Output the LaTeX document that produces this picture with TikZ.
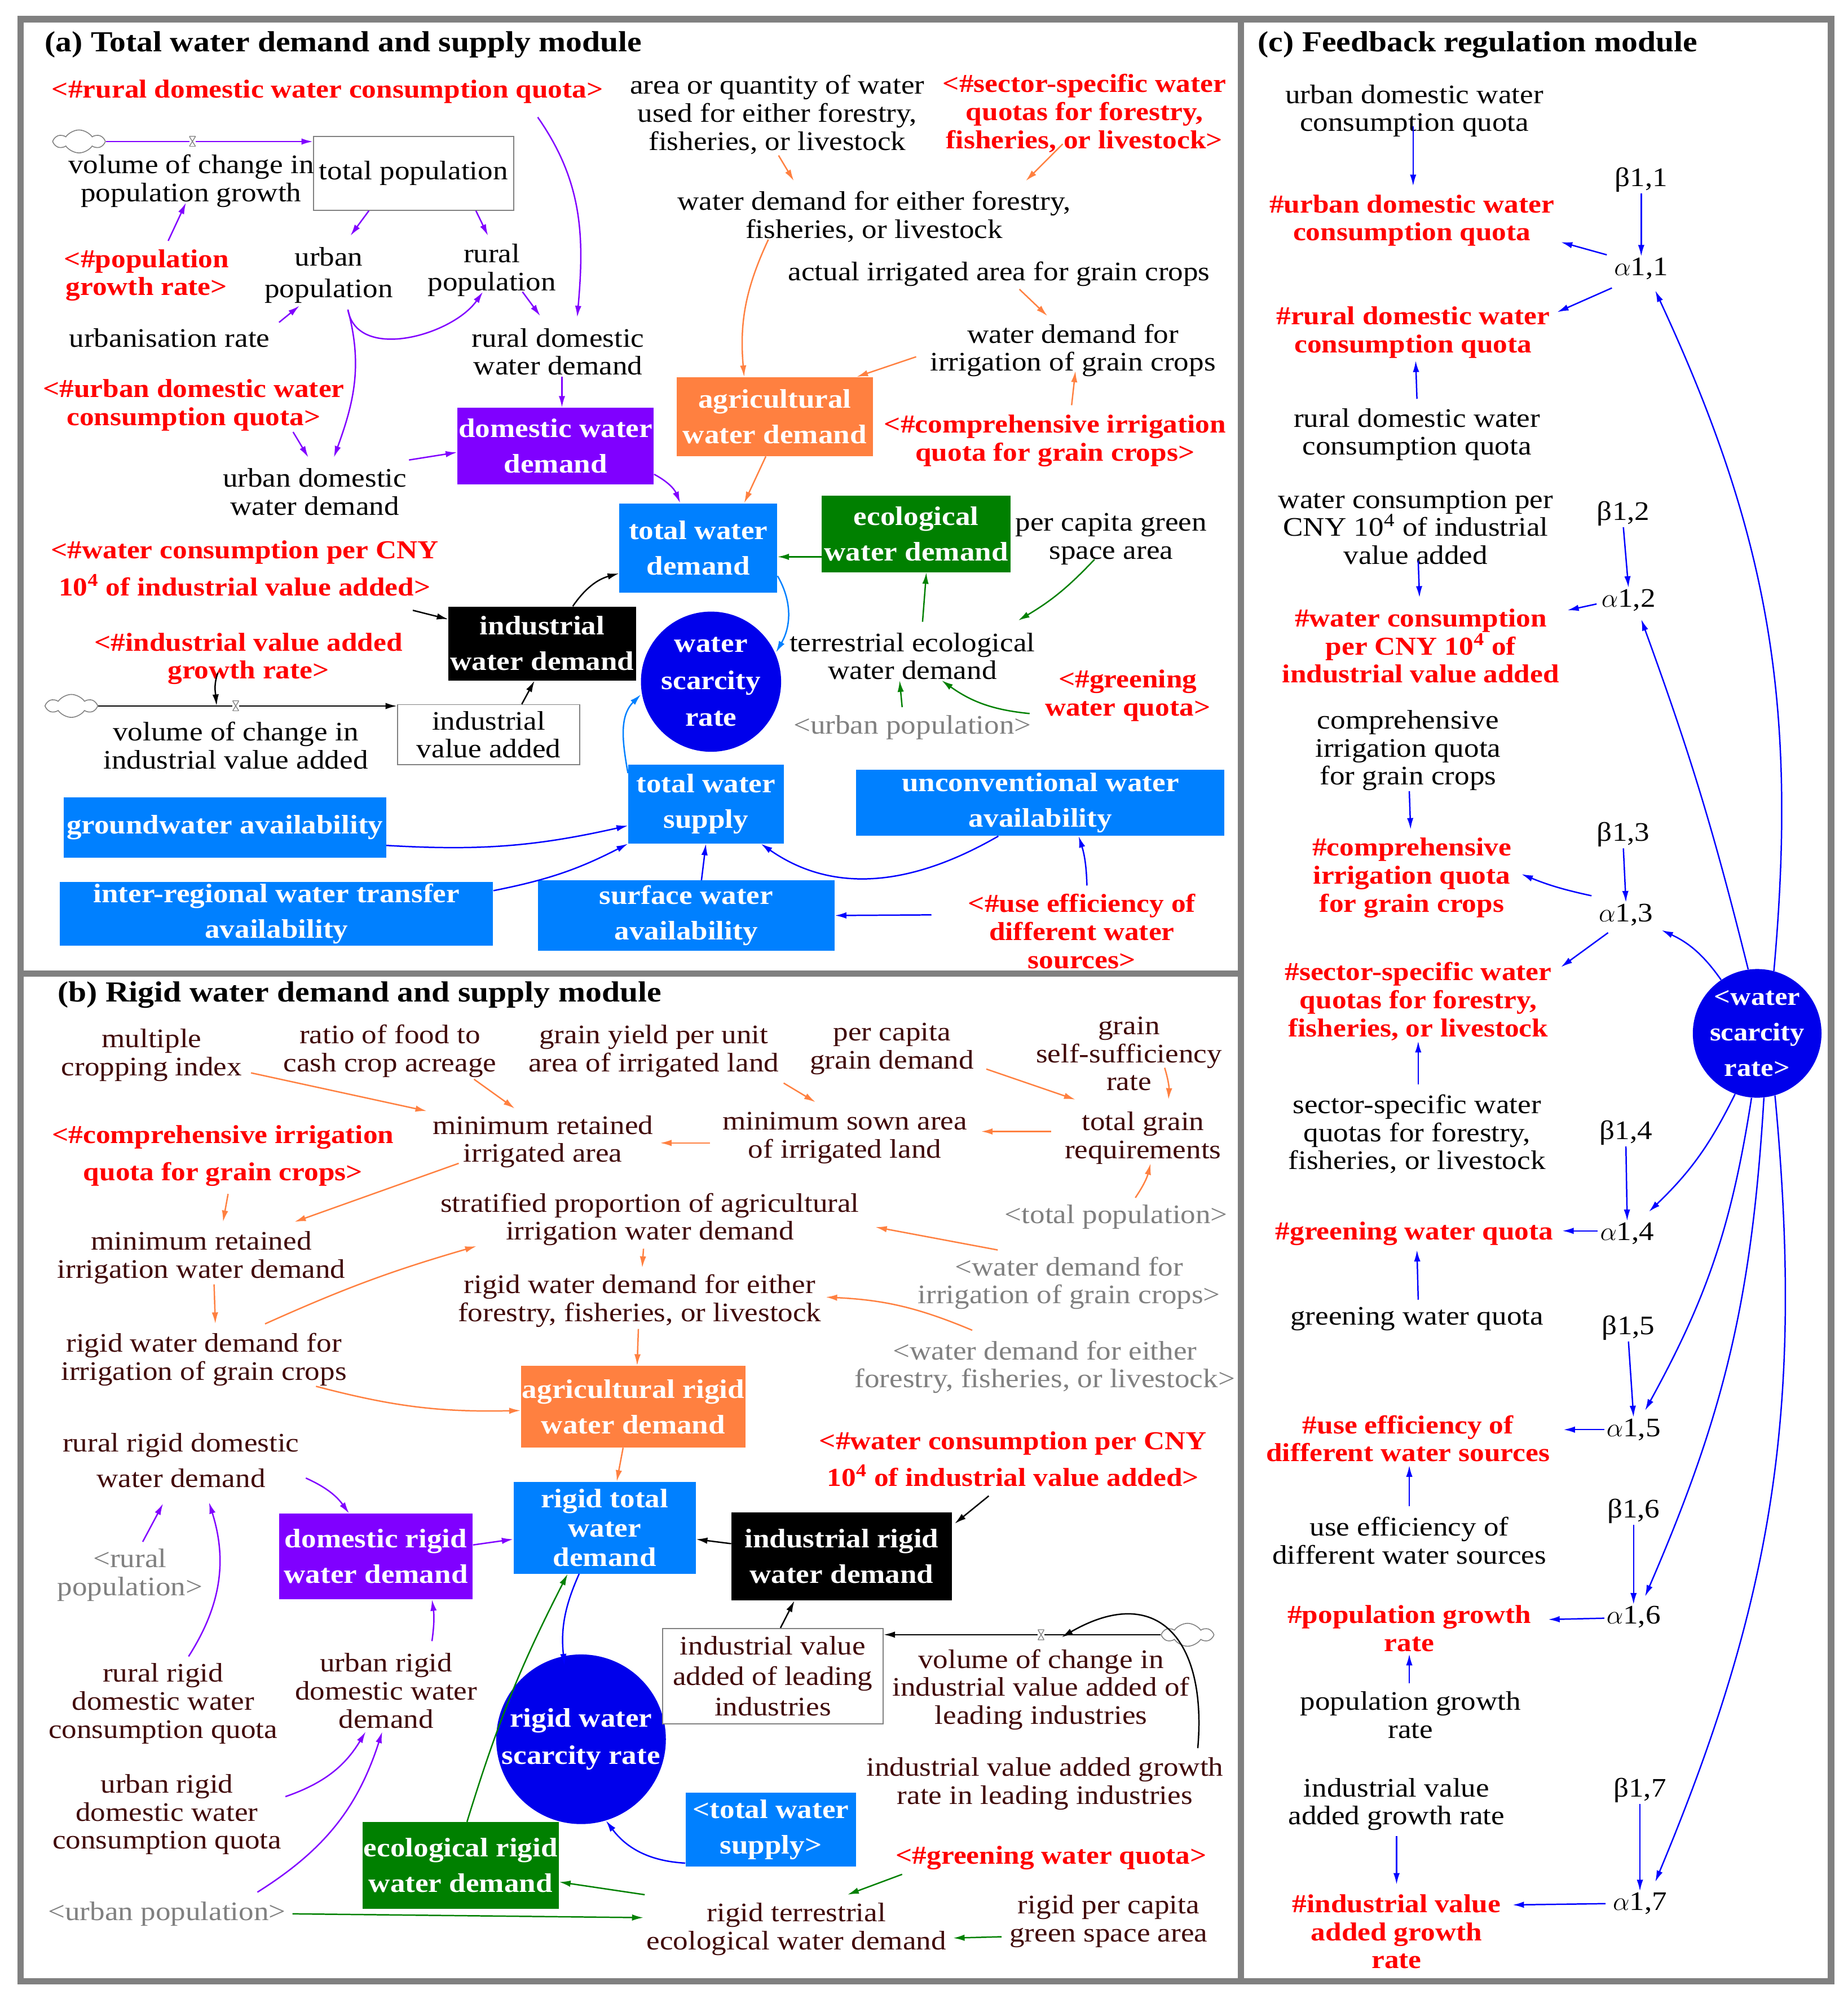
\documentclass[tikz,border=0pt]{standalone}
\usepackage{fontspec}
\setmainfont{Liberation Serif}[FakeStretch=1.12]
\usetikzlibrary{arrows.meta,calc,shapes.symbols}

\definecolor{vpur}{RGB}{128,0,255}
\definecolor{vora}{RGB}{255,128,64}
\definecolor{vblu}{RGB}{0,128,255}
\definecolor{vgrn}{RGB}{0,128,0}
\definecolor{vred}{RGB}{255,0,0}
\definecolor{vdrk}{RGB}{0,0,235}
\definecolor{vbrn}{RGB}{64,8,8}
\definecolor{vgry}{RGB}{128,128,128}

\tikzset{
  txt/.style={align=center,inner sep=1pt,font=\fontsize{21}{22}\selectfont},
  atxt/.style={txt,text=black},
  btxt/.style={txt,text=vbrn},
  rtxt/.style={txt,text=vred,font=\bfseries\fontsize{20.3}{22}\selectfont},
  gtxt/.style={txt,text=vgry},
  hd/.style={anchor=west,inner sep=0pt,font=\bfseries\fontsize{22.8}{24}\selectfont},
  vbox/.style={align=center,inner sep=1pt,text=white,font=\bfseries\fontsize{21}{28}\selectfont},
  pbox/.style={vbox,fill=vpur},
  obox/.style={vbox,fill=vora},
  bbox/.style={vbox,fill=vblu},
  gbox/.style={vbox,fill=vgrn},
  kbox/.style={vbox,fill=black},
  stock/.style={draw=vgry,line width=0.8pt,fill=white,align=center,inner sep=1pt,font=\fontsize{21}{22}\selectfont},
  rate/.style={circle,fill=vdrk,text=white,align=center,inner sep=0pt,font=\bfseries\fontsize{21}{29}\selectfont},
  cld/.style={cloud,cloud puffs=6,cloud puff arc=110,aspect=2.2,draw=vgry,line width=0.7pt,inner sep=0pt,minimum width=38pt,minimum height=18pt},
  valve/.style={fill=white,inner sep=0pt,minimum width=5pt,minimum height=8pt,
    path picture={\draw[vgry,line width=0.6pt] (path picture bounding box.north west) -- (path picture bounding box.north east) -- (path picture bounding box.south west) -- (path picture bounding box.south east) -- cycle;}},
  frm/.style={draw=vgry,line width=5pt},
  conn/.style={line width=1.1pt,-{Latex[length=9pt,width=5pt]}},
  cpur/.style={conn,vpur},
  cora/.style={conn,vora},
  cgrn/.style={conn,vgrn},
  cblu/.style={conn,blue},
  clbl/.style={conn,vblu},
  cblk/.style={conn,black},
}

\begin{document}
\begin{tikzpicture}[x=1pt,y=-1pt]
\useasboundingbox (0,0) rectangle (1450,1572);

% frames
\draw[frm] (16,15) rectangle (1437,1555);
\draw[frm] (974,15) -- (974,1555);
\draw[frm] (16,764) -- (974,764);

% (a) total water demand and supply
\node[hd] (ta) at (35,35) {(a) Total water demand and supply module};
\node[rtxt] (rdq) at (257,72) {<\#rural domestic water consumption quota>};
\node[cld] (cl1) at (62,111) {};
\node[stock,minimum width=157pt,minimum height=58pt] (tpop) at (324.5,136) {total population};
\node[atxt] (vcpg) at (150,142) {volume of change in\\population growth};
\node[rtxt] (pgr) at (115,216) {<\#population\\growth rate>};
\node[atxt] (upop) at (258,216) {urban\\[3pt]population};
\node[atxt] (rpop) at (386,212) {rural\\population};
\node[atxt] (urb) at (133,265) {urbanisation rate};
\node[atxt] (rdwd) at (438,276) {rural domestic\\water demand};
\node[pbox,minimum width=154pt,minimum height=60pt] (dwd) at (436,350) {domestic water\\demand};
\node[rtxt] (udq) at (152,318) {<\#urban domestic water\\consumption quota>};
\node[atxt] (udwd) at (247,386) {urban domestic\\water demand};
\node[obox,minimum width=154pt,minimum height=62pt] (agwd) at (608,327) {agricultural\\water demand};
\node[atxt] (aqw) at (610,90) {area or quantity of water\\used for either forestry,\\fisheries, or livestock};
\node[rtxt] (ssq) at (851,89) {<\#sector-specific water\\quotas for forestry,\\fisheries, or livestock>};
\node[atxt] (wdf) at (686,170) {water demand for either forestry,\\fisheries, or livestock};
\node[atxt] (aia) at (784,215) {actual irrigated area for grain crops};
\node[atxt] (wdi) at (842,275) {water demand for\\irrigation of grain crops};
\node[rtxt] (ciq) at (828,346) {<\#comprehensive irrigation\\quota for grain crops>};
\node[bbox,minimum width=124pt,minimum height=70pt] (twd) at (548,430) {total water\\demand};
\node[gbox,minimum width=148pt,minimum height=60pt] (ewd) at (719,419) {ecological\\water demand};
\node[atxt] (pcg) at (872,423) {per capita green\\space area};
\node[atxt] (ted) at (716,515) {terrestrial ecological\\water demand};
\node[rtxt] (gwq) at (885,546) {<\#greening\\water quota>};
\node[gtxt] (upop2) at (716,571) {<urban population>};
\node[rate,minimum size=110pt] (wsr) at (558,535) {water\\scarcity\\rate};
\node[bbox,minimum width=122pt,minimum height=62pt] (tws) at (554,631) {total water\\supply};
\node[bbox,minimum width=289pt,minimum height=52pt] (uwa) at (816.5,630) {unconventional water\\availability};
\node[bbox,minimum width=233pt,minimum height=55pt] (swa) at (538.5,718.5) {surface water\\availability};
\node[rtxt] (uef) at (849,731) {<\#use efficiency of\\different water\\sources>};
\node[bbox,minimum width=253pt,minimum height=47pt] (gwa) at (176.5,649.5) {groundwater availability};
\node[bbox,minimum width=340pt,minimum height=50pt] (ira) at (217,717) {inter-regional water transfer\\availability};
\node[rtxt] (wcc) at (192,446) {<\#water consumption per CNY\\[7pt]10\textsuperscript{4} of industrial value added>};
\node[kbox,minimum width=147pt,minimum height=58pt] (iwd) at (425.5,505) {industrial\\water demand};
\node[rtxt] (igr) at (195,517) {<\#industrial value added\\growth rate>};
\node[cld] (cl2) at (56,554) {};
\node[atxt] (vci) at (185,585) {volume of change in\\industrial value added};
\node[stock,minimum width=143pt,minimum height=47pt] (iva) at (383.5,576.5) {industrial\\value added};
\coordinate (f2) at (170,554);

\draw[cpur] (cl1.east) -- (cl1.east -| tpop.west);
\node[valve] (v1) at (151,111) {};
\draw[cpur] ($(pgr)+(17,-27)$) -- ($(vcpg)+(-4,17)$);
\draw[cpur] ([xshift=-35pt]tpop.south) -- ($(upop)+(17,-31)$);
\draw[cpur] ([xshift=49pt]tpop.south) -- ($(rpop)+(-3,-27)$);
\draw[cpur] ($(urb)+(86,-12)$) -- ($(upop)+(-23,24)$);
\draw[cpur] ($(upop)+(15,27)$) to[out=-80,in=-125] ($(rpop)+(-7,17)$);
\draw[cpur] ($(rpop)+(24,17)$) -- ($(rdwd)+(-14,-28)$);
\draw[cpur] ($(rdq)+(165,20)$) to[out=-55,in=85] ($(rdwd)+(15,-27)$);
\draw[cpur] ([xshift=3pt]rdwd.south) -- ([xshift=5pt]dwd.north);
\draw[cpur] ($(udq)+(78,21)$) -- ($(udwd)+(-5,-27)$);
\draw[cpur] ($(upop)+(15,27)$) to[out=-75,in=70] ($(udwd)+(15,-27)$);
\draw[cpur] ($(udwd)+(74,-25)$) -- ($(dwd.west)+(0,5)$);
\draw[cpur] ($(dwd.south east)+(0,-8)$) to[bend left=20] ([xshift=48pt]twd.north west);
\draw[cora] ([xshift=-7pt]agwd.south) -- ([xshift=36pt]twd.north);
\draw[cora] ($(aqw)+(1,32)$) -- ($(wdf)+(-63,-28)$);
\draw[cora] ($(ssq)+(-17,24)$) -- ($(wdf)+(119,-28)$);
\draw[cora] ($(wdf)+(-83,18)$) to[out=-115,in=95] ([xshift=-24pt]agwd.north);
\draw[cora] ($(aia)+(16,12)$) -- ($(wdi)+(-20,-27)$);
\draw[cora] ($(wdi)+(-123,5)$) -- ([xshift=-13pt]agwd.north east);
\draw[cora] ($(ciq)+(13,-28)$) -- ($(wdi)+(2,16)$);
\draw[cgrn] ($(ewd.west)+(0,18)$) -- ($(twd.east)+(0,7)$);
\draw[cgrn] ($(pcg)+(-13,16)$) to[bend left=8] ($(ted)+(83,-28)$);
\draw[cgrn] ($(ted)+(8,-27)$) -- ([xshift=8pt]ewd.south);
\draw[cgrn] ($(gwq)+(-77,14)$) to[bend left=15] ($(ted)+(23,19)$);
\draw[cgrn] ($(upop2)+(-8,-16)$) -- ($(ted)+(-10,19)$);
\draw[clbl] ($(twd.east)+(0,22)$) to[out=-60,in=60] ($(wsr)+(51,-23)$);
\draw[clbl] ($(tws.north west)+(0,7)$) to[out=100,in=-135] ($(wsr)+(-55,10)$);
\draw[cblu] ($(uwa.south)+(-33,0)$) to[out=-150,in=-35] ([xshift=-18pt]tws.south east);
\draw[cblu] ([xshift=12pt]swa.north) -- (tws.south);
\draw[cblu] ($(uef)+(-118,-13)$) -- (swa.east);
\draw[cblu] ($(uef)+(4,-36)$) to[bend right=8] ([xshift=30pt]uwa.south);
\draw[cblu] ($(gwa.east)+(0,14)$) to[bend right=8] ($(tws.west)+(0,17)$);
\draw[cblu] ($(ira.east)+(0,-18)$) to[bend right=8] (tws.south west);
\draw[cblk] ($(wcc)+(132,33)$) -- ($(iwd.west)+(0,-19)$);
\draw[cblk] ([xshift=24pt]iwd.north) to[bend left=20] ($(twd.west)+(0,20)$);
\draw[cblk] ($(igr)+(-24,11)$) to[out=-110,in=95] (f2);
\draw[cblk] (cl2.east) -- (cl2.east -| iva.west);
\node[valve] (v2) at (185,554) {};
\draw[cblk] ([xshift=26pt]iva.north) -- ([xshift=-6pt]iwd.south);

% (b) rigid water demand and supply
\node[hd] (tb) at (45,781) {(b) Rigid water demand and supply module};
\node[btxt] (mci) at (119,828) {multiple\\cropping index};
\node[btxt] (rfc) at (306,825) {ratio of food to\\cash crop acreage};
\node[btxt] (gyu) at (513,825) {grain yield per unit\\area of irrigated land};
\node[btxt] (pcgd) at (700,823) {per capita\\grain demand};
\node[btxt] (gss) at (886,827) {grain\\self-sufficiency\\rate};
\node[btxt] (mria) at (426,896) {minimum retained\\irrigated area};
\node[btxt] (msa) at (663,893) {minimum sown area\\of irrigated land};
\node[btxt] (tgr) at (897,893) {total grain\\requirements};
\node[gtxt] (tpop2) at (876,955) {<total population>};
\node[rtxt] (ciq2) at (175,907) {<\#comprehensive irrigation\\[7pt]quota for grain crops>};
\node[btxt] (mriw) at (158,987) {minimum retained\\irrigation water demand};
\node[btxt] (spa) at (510,957) {stratified proportion of agricultural\\irrigation water demand};
\node[btxt] (rwi) at (160,1067) {rigid water demand for\\irrigation of grain crops};
\node[gtxt] (wdi2) at (839,1007) {<water demand for\\irrigation of grain crops>};
\node[btxt] (rwf) at (502,1021) {rigid water demand for either\\forestry, fisheries, or livestock};
\node[gtxt] (wdf2) at (820,1073) {<water demand for either\\forestry, fisheries, or livestock>};
\node[obox,minimum width=174pt,minimum height=64pt] (arwd) at (497,1104) {agricultural rigid\\water demand};
\node[bbox,minimum width=143pt,minimum height=72pt,font=\bfseries\fontsize{21}{23}\selectfont] (rtwd) at (474.5,1199) {rigid total\\water\\demand};
\node[rate,minimum size=120pt] (rwsr) at (456,1365) {rigid water\\scarcity rate};
\node[pbox,minimum width=152pt,minimum height=67pt] (drwd) at (295,1221.5) {domestic rigid\\water demand};
\node[btxt] (rrdwd) at (142,1146) {rural rigid domestic\\[6pt]water demand};
\node[gtxt] (rpop2) at (102,1236) {<rural\\population>};
\node[btxt] (rrq) at (128,1337) {rural rigid\\domestic water\\consumption quota};
\node[btxt] (urdwd) at (303,1327) {urban rigid\\domestic water\\demand};
\node[btxt] (urq) at (131,1424) {urban rigid\\domestic water\\consumption quota};
\node[gtxt] (upop3) at (131,1502) {<urban population>};
\node[gbox,minimum width=153pt,minimum height=68pt] (erwd) at (361.5,1464) {ecological rigid\\water demand};
\node[btxt] (rted) at (625,1514) {rigid terrestrial\\ecological water demand};
\node[rtxt] (gwq2) at (825,1458) {<\#greening water quota>};
\node[btxt] (rpcg) at (870,1508) {rigid per capita\\green space area};
\node[bbox,minimum width=134pt,minimum height=58pt] (tws2) at (605,1436) {<total water\\supply>};
\node[kbox,minimum width=173pt,minimum height=69pt] (irwd) at (660.5,1221.5) {industrial rigid\\water demand};
\node[rtxt] (wcc2) at (795,1145) {<\#water consumption per CNY\\[7pt]10\textsuperscript{4} of industrial value added>};
\node[stock,text=vbrn,minimum width=173pt,minimum height=75pt,font=\fontsize{21}{24}\selectfont] (ival) at (606.5,1315.5) {industrial value\\added of leading\\industries};
\node[cld] (cl3) at (932,1283) {};
\node[btxt] (vcil) at (817,1326) {volume of change in\\industrial value added of\\leading industries};
\node[btxt] (ivgr) at (820,1400) {industrial value added growth\\rate in leading industries};
\coordinate (f3) at (833,1285);

\draw[cora] ($(mci)+(78,14)$) -- ($(mria)+(-91,-24)$);
\draw[cora] ($(rfc)+(66,22)$) -- ($(mria)+(-22,-26)$);
\draw[cora] ($(gyu)+(102,25)$) -- ($(msa)+(-23,-28)$);
\draw[cora] ($(msa)+(-106,4)$) -- ($(mria)+(92,1)$);
\draw[cora] ($(pcgd)+(74,16)$) -- ($(tgr)+(-53,-30)$);
\draw[cora] ($(gss)+(28,11)$) to[bend left=10] ($(tgr)+(20,-30)$);
\draw[cora] ($(tgr)+(-72,-5)$) -- ($(msa)+(107,-5)$);
\draw[cora] ($(tpop2)+(15,-15)$) to[bend right=10] ($(tgr)+(6,20)$);
\draw[cora] ($(ciq2)+(4,30)$) -- ($(mriw)+(17,-28)$);
\draw[cora] ($(mria)+(-66,17)$) -- ($(mriw)+(73,-28)$);
\draw[cora] ($(mriw)+(10,21)$) -- ($(rwi)+(9,-28)$);
\draw[cora] ($(rwi)+(48,-28)$) to[bend left=4] ($(spa)+(-136,21)$);
\draw[cora] ($(wdi2)+(-56,-26)$) -- ($(spa)+(177,6)$);
\draw[cora] ($(spa)+(-5,23)$) -- ($(rwf)+(2,-26)$);
\draw[cora] ($(wdf2)+(-57,-29)$) to[bend right=10] ($(rwf)+(146,-3)$);
\draw[cora] ($(rwf)+(-1,22)$) -- ([xshift=3pt]arwd.north);
\draw[cora] ($(rwi)+(88,21)$) to[bend right=8] ($(arwd.west)+(0,3)$);
\draw[cora] ([xshift=-8pt]arwd.south) -- ([xshift=9.5pt]rtwd.north);
\draw[cpur] ($(drwd.east)+(0,-9)$) -- ($(rtwd.west)+(0,9)$);
\draw[cblk] ($(irwd.west)+(0,-10)$) -- ($(rtwd.east)+(0,9)$);
\draw[cblk] ($(wcc2)+(-19,29)$) -- ($(irwd.north east)+(2,9)$);
\draw[cblk] ([xshift=6pt]ival.north) -- ([xshift=-37pt]irwd.south);
\draw[cblk] (cl3.west) -- (cl3.west -| ival.east);
\node[valve] (v3) at (817,1283) {};
\draw[cblk] ($(ivgr)+(120,-28)$) to[out=85,in=30,looseness=1.6] (f3);
\draw[cpur] ($(rrdwd)+(98,14)$) to[bend left=15] ([xshift=-21pt]drwd.north);
\draw[cpur] ($(rpop2)+(10,-26)$) -- ($(rrdwd)+(-14,34)$);
\draw[cpur] ($(rrq)+(20,-37)$) to[bend right=25] ($(rrdwd)+(22,33)$);
\draw[cpur] ($(urdwd)+(36,-39)$) to[bend right=8] ([xshift=44pt]drwd.south);
\draw[cpur] ($(urq)+(93,-14)$) to[bend right=20] ($(urdwd)+(-16,32)$);
\draw[cpur] ($(upop3)+(71,-17)$) to[bend right=20] ($(urdwd)+(-3,32)$);
\draw[cgrn] ($(upop3.east)+(4,0)$) -- ($(rted)+(-120,-9)$);
\draw[cgrn] ($(rted)+(-119,-27)$) -- ($(erwd.east)+(0,13)$);
\draw[cgrn] ([xshift=5pt]erwd.north) to[bend left=5] ([xshift=-29pt]rtwd.south);
\draw[cblu] ([xshift=-20pt]rtwd.south) to[bend right=15] ($(rwsr)+(-13,-58)$);
\draw[cblu] ($(tws2.south west)+(0,-3)$) to[bend left=25] (rwsr.-73);
\draw[cgrn] ($(gwq2)+(-117,13)$) -- ($(rted)+(40,-27)$);
\draw[cgrn] ($(rpcg)+(-84,12)$) -- ($(rted)+(123,7)$);

% (c) feedback regulation
\node[hd] (tc) at (987,35) {(c) Feedback regulation module};
\node[atxt] (cudq) at (1110,87) {urban domestic water\\consumption quota};
\node[rtxt] (chudq) at (1108,173) {\#urban domestic water\\consumption quota};
\node[atxt] (b11) at (1288,141) {β1,1};
\node[atxt] (a11) at (1288,211) {$\alpha$1,1};
\node[rtxt] (chrdq) at (1109,261) {\#rural domestic water\\consumption quota};
\node[atxt] (crdq) at (1112,341) {rural domestic water\\consumption quota};
\node[atxt] (cwcc) at (1111,414) {water consumption per\\CNY 10\textsuperscript{4} of industrial\\value added};
\node[atxt] (b12) at (1274,403) {β1,2};
\node[atxt] (a12) at (1278,471) {$\alpha$1,2};
\node[rtxt] (chwcc) at (1115,507) {\#water consumption\\per CNY 10\textsuperscript{4} of\\industrial value added};
\node[atxt] (cciq) at (1105,589) {comprehensive\\irrigation quota\\for grain crops};
\node[atxt] (b13) at (1274,655) {β1,3};
\node[atxt] (a13) at (1276,718) {$\alpha$1,3};
\node[rtxt] (chciq) at (1108,689) {\#comprehensive\\irrigation quota\\for grain crops};
\node[rtxt] (chssq) at (1113,786) {\#sector-specific water\\quotas for forestry,\\fisheries, or livestock};
\node[rate,minimum size=101pt,font=\bfseries\fontsize{20}{28}\selectfont] (cwsr) at (1379,811) {<water\\scarcity\\rate>};
\node[atxt] (cssq) at (1112,890) {sector-specific water\\quotas for forestry,\\fisheries, or livestock};
\node[atxt] (b14) at (1276,889) {β1,4};
\node[atxt] (a14) at (1277,968) {$\alpha$1,4};
\node[rtxt] (chgwq) at (1110,968) {\#greening water quota};
\node[atxt] (cgwq) at (1112,1035) {greening water quota};
\node[atxt] (b15) at (1278,1042) {β1,5};
\node[atxt] (a15) at (1282,1122) {$\alpha$1,5};
\node[rtxt] (chuef) at (1105,1129) {\#use efficiency of\\different water sources};
\node[atxt] (cuef) at (1106,1209) {use efficiency of\\different water sources};
\node[atxt] (b16) at (1282,1186) {β1,6};
\node[atxt] (a16) at (1282,1269) {$\alpha$1,6};
\node[rtxt] (chpgr) at (1106,1278) {\#population growth\\rate};
\node[atxt] (cpgr) at (1107,1346) {population growth\\rate};
\node[atxt] (civg) at (1096,1416) {industrial value\\added growth rate};
\node[atxt] (b17) at (1287,1405) {β1,7};
\node[atxt] (a17) at (1287,1494) {$\alpha$1,7};
\node[rtxt] (chivg) at (1096,1516) {\#industrial value\\added growth\\rate};

\draw[cblu] ($(cudq)+(-1,12)$) -- ($(chudq)+(1,-27)$);
\draw[cblu] (b11.south) -- (a11.north);
\draw[cblu] ($(a11)+(-27,-11)$) -- ($(chudq)+(117,17)$);
\draw[cblu] ($(a11)+(-23,15)$) -- ($(chrdq)+(113,-16)$);
\draw[cblu] ($(crdq)+(0,-28)$) -- ($(chrdq)+(2,22)$);
\draw[cblu] ($(cwcc)+(2,26)$) -- ($(chwcc)+(-1,-38)$);
\draw[cblu] (b12.south) -- (a12.north);
\draw[cblu] ($(a12)+(-25,3)$) -- ($(chwcc)+(115,-28)$);
\draw[cblu] ($(cciq)+(1,32)$) -- ($(chciq)+(-1,-38)$);
\draw[cblu] (b13.south) -- (a13.north);
\draw[cblu] ($(a13)+(-27,-15)$) to[bend left=5] ($(chciq)+(86,-3)$);
\draw[cblu] ($(a13)+(-14,14)$) -- ($(chssq)+(112,-27)$);
\draw[cblu] ($(cssq)+(1,-39)$) -- ($(chssq)+(0,31)$);
\draw[cblu] (b14.south) -- (a14.north);
\draw[cblu] ($(a14)+(-23,-2)$) -- ($(chgwq)+(116,-2)$);
\draw[cblu] ($(cgwq)+(1,-15)$) -- ($(chgwq)+(2,13)$);
\draw[cblu] (b15.south) -- (a15.north);
\draw[cblu] ($(a15)+(-23,0)$) -- ($(chuef)+(122,-7)$);
\draw[cblu] ($(cuef)+(0,-27)$) -- ($(chuef)+(1,21)$);
\draw[cblu] (b16.south) -- (a16.north);
\draw[cblu] ($(a16)+(-23,1)$) -- ($(chpgr)+(109,-7)$);
\draw[cblu] ($(cpgr)+(-1,-25)$) -- ($(chpgr)+(0,20)$);
\draw[cblu] (b17.south) -- (a17.north);
\draw[cblu] ($(a17)+(-27,0)$) -- ($(chivg)+(91,-21)$);
\draw[cblu] ($(civg)+(0,25)$) -- ($(chivg)+(0,-37)$);
\draw[cblu] (cwsr.75) to[bend right=15] ($(a11)+(11,17)$);
\draw[cblu] (cwsr.98) to[bend right=3] ($(a12)+(10,15)$);
\draw[cblu] (cwsr.124) to[bend right=15] ($(a13)+(28,12)$);
\draw[cblu] (cwsr.-110) to[bend left=10] ($(a14)+(17,-17)$);
\draw[cblu] (cwsr.-95) to[bend left=10] ($(a15)+(9,-15)$);
\draw[cblu] (cwsr.-84) to[bend left=10] ($(a16)+(9,-16)$);
\draw[cblu] (cwsr.-74) to[bend left=14] ($(a17)+(12,-17)$);

\end{tikzpicture}
\end{document}
